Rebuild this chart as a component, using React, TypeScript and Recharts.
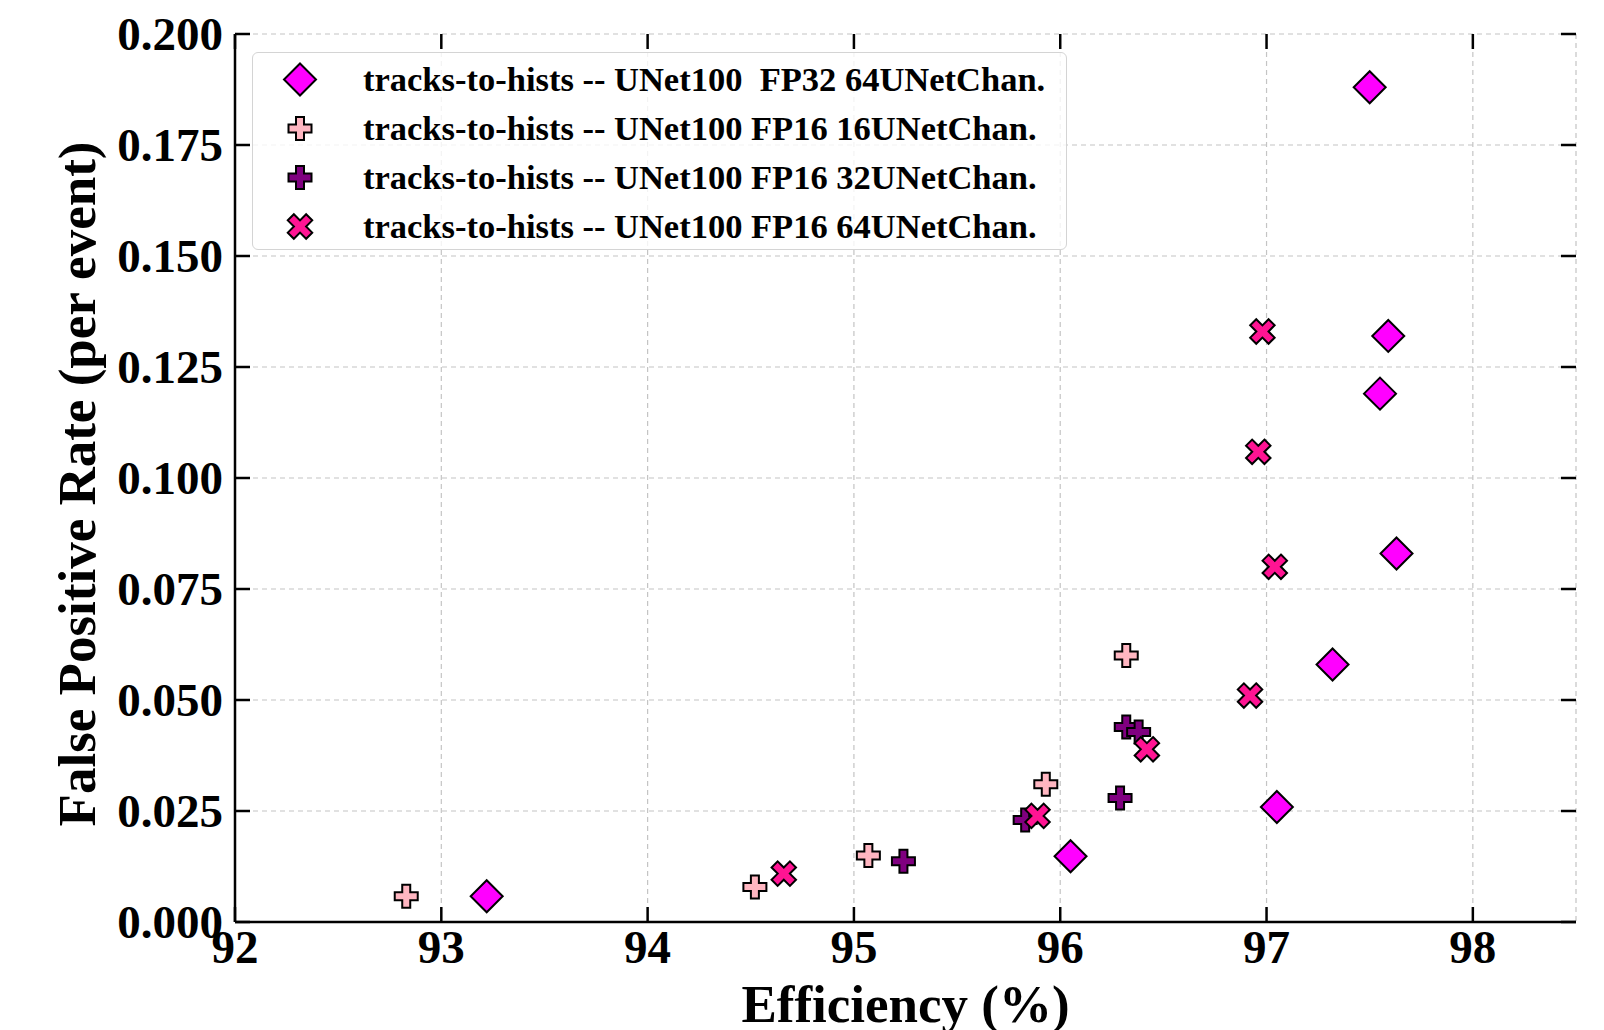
import React from "react";
import {
  ScatterChart,
  Scatter,
  XAxis,
  YAxis,
  CartesianGrid,
} from "recharts";

// efficiency (%) / false positive rate (per event)
const fp32c64Eff = [97.5, 97.59, 97.55, 97.63, 97.32, 97.05, 96.05, 93.22];
const fp32c64Fpr = [0.188, 0.132, 0.119, 0.083, 0.058, 0.0259, 0.0148, 0.0058];

const fp16c16Eff = [92.83, 94.52, 95.07, 95.93, 96.32];
const fp16c16Fpr = [0.0058, 0.0079, 0.015, 0.031, 0.06];

const fp16c32Eff = [95.24, 95.83, 96.29, 96.32, 96.38];
const fp16c32Fpr = [0.0137, 0.023, 0.0279, 0.0439, 0.0428];

const fp16c64Eff = [96.98, 96.96, 97.04, 96.92, 96.42, 95.89, 94.66];
const fp16c64Fpr = [0.133, 0.1059, 0.08, 0.051, 0.0389, 0.0239, 0.0109];

const xTicks = [92, 93, 94, 95, 96, 97, 98];
const yTicks = [0, 0.025, 0.05, 0.075, 0.1, 0.125, 0.15, 0.175, 0.2];

const seriesNames = [
  "tracks-to-hists -- UNet100  FP32 64UNetChan.",
  "tracks-to-hists -- UNet100 FP16 16UNetChan.",
  "tracks-to-hists -- UNet100 FP16 32UNetChan.",
  "tracks-to-hists -- UNet100 FP16 64UNetChan.",
];

const zip = (xs: number[], ys: number[]) => xs.map((x, i) => ({ x, y: ys[i] }));

const FONT = "'Liberation Serif', 'Times New Roman', serif";
const TICK_LEN = 15;
const FRAME = 2.5;
// plot box edges (chart margins below put the plot area here)
const PLOT_TOP = 34;
const PLOT_RIGHT = 1576;

function Diamond({ cx, cy, fill }: any) {
  const r = 16;
  return (
    <polygon
      points={`${cx},${cy - r} ${cx + r},${cy} ${cx},${cy + r} ${cx - r},${cy}`}
      fill={fill}
      stroke="#000"
      strokeWidth={2}
    />
  );
}

function plusPath(h: number, a: number) {
  return `M${-a},${-h}L${a},${-h}L${a},${-a}L${h},${-a}L${h},${a}L${a},${a}L${a},${h}L${-a},${h}L${-a},${a}L${-h},${a}L${-h},${-a}L${-a},${-a}Z`;
}

function Plus({ cx, cy, fill }: any) {
  return (
    <path
      d={plusPath(11.5, 4)}
      transform={`translate(${cx},${cy})`}
      fill={fill}
      stroke="#000"
      strokeWidth={2}
    />
  );
}

function Cross({ cx, cy, fill }: any) {
  return (
    <path
      d={plusPath(13, 4.3)}
      transform={`translate(${cx},${cy}) rotate(45)`}
      fill={fill}
      stroke="#000"
      strokeWidth={2}
    />
  );
}

const series = [
  { name: seriesNames[0], data: zip(fp32c64Eff, fp32c64Fpr), color: "#ff00ff", Shape: Diamond },
  { name: seriesNames[1], data: zip(fp16c16Eff, fp16c16Fpr), color: "#ffb6c1", Shape: Plus },
  { name: seriesNames[2], data: zip(fp16c32Eff, fp16c32Fpr), color: "#800080", Shape: Plus },
  { name: seriesNames[3], data: zip(fp16c64Eff, fp16c64Fpr), color: "#ff1493", Shape: Cross },
];

const textStyle = { fontFamily: FONT, fontWeight: 700, fill: "#000" };

// bottom tick: inward mark + label, plus the matching mark on the top spine
function BottomTick({ x, y, payload }: any) {
  return (
    <g>
      <line x1={x} x2={x} y1={y} y2={y - TICK_LEN} stroke="#000" strokeWidth={FRAME} />
      <line x1={x} x2={x} y1={PLOT_TOP} y2={PLOT_TOP + TICK_LEN} stroke="#000" strokeWidth={FRAME} />
      <text x={x} y={y + 41} textAnchor="middle" fontSize={47} {...textStyle}>
        {payload.value}
      </text>
    </g>
  );
}

// left tick: inward mark + label, plus the matching mark on the right spine
function LeftTick({ x, y, payload }: any) {
  return (
    <g>
      <line x1={x} x2={x + TICK_LEN} y1={y} y2={y} stroke="#000" strokeWidth={FRAME} />
      <line x1={PLOT_RIGHT} x2={PLOT_RIGHT - TICK_LEN} y1={y} y2={y} stroke="#000" strokeWidth={FRAME} />
      <text x={x - 12} y={y + 16} textAnchor="end" fontSize={47} {...textStyle}>
        {Number(payload.value).toFixed(3)}
      </text>
    </g>
  );
}

function XLabel({ viewBox }: any) {
  const { x, y, width } = viewBox;
  return (
    <text x={x + width / 2} y={y + 100} textAnchor="middle" fontSize={53} {...textStyle}>
      Efficiency (%)
    </text>
  );
}

function YLabel({ viewBox }: any) {
  const { y, height } = viewBox;
  const cx = 95;
  const cy = y + height / 2 + 6;
  return (
    <text
      x={cx}
      y={cy}
      transform={`rotate(-90, ${cx}, ${cy})`}
      textAnchor="middle"
      fontSize={53}
      {...textStyle}
    >
      False Positive Rate (per event)
    </text>
  );
}

function LegendBox() {
  return (
    <div
      style={{
        position: "absolute",
        left: 252,
        top: 52,
        width: 815,
        height: 198,
        boxSizing: "border-box",
        border: "1.5px solid #d4d4d4",
        borderRadius: 6,
        background: "rgba(255,255,255,0.8)",
        pointerEvents: "none",
      }}
    >
      {series.map((s, i) => (
        <div
          key={s.name}
          style={{
            position: "absolute",
            left: 0,
            top: 2 + i * 49,
            height: 49,
            display: "flex",
            alignItems: "center",
          }}
        >
          <svg width={94} height={49} style={{ display: "block" }}>
            <s.Shape cx={47} cy={24.5} fill={s.color} />
          </svg>
          <span
            style={{
              marginLeft: 16,
              fontFamily: FONT,
              fontWeight: 700,
              fontSize: 34.5,
              whiteSpace: "pre",
              color: "#000",
              lineHeight: "49px",
            }}
          >
            {s.name}
          </span>
        </div>
      ))}
    </div>
  );
}

export default function App() {
  return (
    <div style={{ position: "absolute", left: 0, top: 0, width: 1604, height: 1030, background: "#fff" }}>
      <ScatterChart width={1604} height={1030} margin={{ top: PLOT_TOP, right: 1604 - PLOT_RIGHT, bottom: 0, left: 0 }}>
        <CartesianGrid stroke="#c4c4c4" strokeDasharray="5 4" strokeWidth={1.2} />
        <XAxis
          dataKey="x"
          type="number"
          domain={[92, 98.5]}
          ticks={xTicks}
          interval={0}
          allowDataOverflow
          height={108}
          tickSize={0}
          tickMargin={0}
          tickLine={false}
          axisLine={{ stroke: "#000", strokeWidth: FRAME }}
          tick={<BottomTick />}
          label={{ content: <XLabel /> }}
        />
        <XAxis
          xAxisId="top"
          orientation="top"
          type="number"
          domain={[92, 98.5]}
          ticks={xTicks}
          allowDataOverflow
          height={0}
          tickLine={false}
          tick={false}
          axisLine={{ stroke: "#000", strokeWidth: FRAME }}
        />
        <YAxis
          dataKey="y"
          type="number"
          domain={[0, 0.2]}
          ticks={yTicks}
          interval={0}
          allowDataOverflow
          width={235}
          tickSize={0}
          tickMargin={0}
          tickLine={false}
          axisLine={{ stroke: "#000", strokeWidth: FRAME }}
          tick={<LeftTick />}
          label={{ content: <YLabel /> }}
        />
        <YAxis
          yAxisId="right"
          orientation="right"
          type="number"
          domain={[0, 0.2]}
          ticks={yTicks}
          allowDataOverflow
          width={0}
          tickLine={false}
          tick={false}
          axisLine={{ stroke: "#000", strokeWidth: FRAME }}
        />
        {series.map((s) => (
          <Scatter
            key={s.name}
            name={s.name}
            data={s.data}
            fill={s.color}
            isAnimationActive={false}
            shape={(p: any) => <s.Shape cx={p.cx} cy={p.cy} fill={s.color} />}
          />
        ))}
      </ScatterChart>
      <LegendBox />
    </div>
  );
}
